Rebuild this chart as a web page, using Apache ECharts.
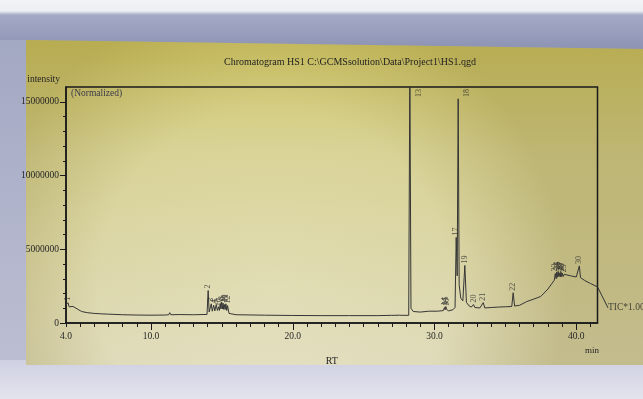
<!DOCTYPE html>
<html>
<head>
<meta charset="utf-8">
<script src="https://cdn.jsdelivr.net/npm/echarts@6/dist/echarts.min.js"></script>
<style>
html, body { margin: 0; padding: 0; }
#chart { width: 643px; height: 399px; }
</style>
</head>
<body>
<div id="chart"></div>
<script>
// TIC trace, retention time (min) and intensity (millions of counts)
const ticRT = [
  4.00, 4.08, 4.14, 4.22, 4.35, 4.50, 4.62, 4.85, 5.10, 5.50, 6.00, 6.50, 7.00, 8.00, 9.00, 10.00,
  11.00, 11.25, 11.32, 11.40, 11.90, 12.00, 12.10, 13.00, 13.95, 14.03, 14.10,
  14.25, 14.32, 14.42, 14.50, 14.60, 14.68, 14.76, 14.82, 14.88, 14.93, 14.98, 15.03,
  15.08, 15.13, 15.18, 15.23, 15.28, 15.34, 15.40, 15.50, 16.00, 18.00, 20.00, 22.00,
  24.00, 26.00, 26.95, 27.05, 27.15, 27.55, 27.62, 27.70, 28.18, 28.26, 28.34, 28.50,
  29.00, 29.60, 30.20, 30.62, 30.70, 30.75, 30.80, 30.85, 30.90, 31.00, 31.30, 31.45,
  31.53, 31.60, 31.67, 31.74, 31.85, 32.00, 32.14, 32.25, 32.45, 32.60, 32.75, 32.85,
  33.20, 33.44, 33.55, 34.00, 34.50, 35.00, 35.45, 35.55, 35.65, 36.00, 36.50, 37.00,
  37.50, 38.00, 38.30, 38.45, 38.52, 38.58, 38.62, 38.67, 38.72, 38.77, 38.82, 38.87,
  38.92, 38.97, 39.02, 39.08, 39.15, 39.25, 39.60, 40.00, 40.14, 40.22, 40.30, 40.60,
  41.00, 41.50
];
const ticIntensity = [
  1.22, 1.30, 1.37, 1.10, 1.05, 1.12, 1.08, 0.92, 0.78, 0.70, 0.65, 0.62, 0.60, 0.56, 0.54, 0.53,
  0.54, 0.56, 0.70, 0.56, 0.57, 0.66, 0.57, 0.56, 0.58, 2.20, 0.75,
  1.30, 0.80, 1.20, 0.82, 1.25, 0.85, 1.10, 0.85, 1.30, 0.95, 1.42, 0.95,
  1.35, 0.92, 1.25, 0.92, 1.30, 0.85, 1.18, 0.65, 0.56, 0.53, 0.51, 0.50,
  0.50, 0.50, 0.52, 0.62, 0.52, 0.53, 0.66, 0.52, 0.52, 17.5, 1.00, 0.78,
  0.74, 0.80, 0.80, 0.84, 1.05, 0.90, 1.12, 0.92, 1.00, 0.82, 0.90, 1.05,
  5.80, 3.20, 15.2, 2.60, 1.70, 1.50, 3.90, 1.40, 1.15, 1.08, 1.25, 1.05,
  1.02, 1.38, 1.02, 1.05, 1.08, 1.10, 1.12, 2.05, 1.15, 1.20, 1.45, 1.62,
  1.80, 2.30, 2.70, 2.90, 3.35, 3.00, 3.45, 3.10, 3.50, 3.15, 3.40, 3.12,
  3.48, 3.15, 3.38, 3.15, 3.30, 3.18, 3.20, 3.12, 3.10, 3.87, 3.08, 2.88,
  2.68, 2.45
];

// numbered peaks and their retention times
const peakNo = [
  '1', '2', '3', '4', '5', '6', '7', '8', '9', '10', '11', '12', '13', '14', '15',
  '16', '17', '18', '19', '20', '21', '22', '23', '24', '25', '26', '27', '28', '29', '30'
];
const peakRT = [
  4.14, 14.03, 14.25, 14.42, 14.60, 14.76, 14.88, 14.98, 15.08, 15.18, 15.28, 15.40, 28.26, 30.70, 30.80,
  30.90, 31.53, 31.67, 32.14, 32.75, 33.44, 35.55, 38.52, 38.62, 38.72, 38.82, 38.92, 39.02, 39.15, 40.22
];

const xLabelValues = [4, 10, 20, 30, 40];
const xMajorTicks = [10, 20, 30, 40];
const yLabelValues = [0, 5000000, 10000000, 15000000];

const MEGA = 1e6;
const X_MIN = 4, X_MAX = 41.5, Y_MAX = 16e6;
const SERIF = 'Liberation Serif';
const INK = '#262626';

const tic = ticRT.map((rt, i) => [rt, ticIntensity[i] * MEGA]);
const lookup = rt => tic.find(p => Math.abs(p[0] - rt) < 1e-6)[1];

const peakData = peakNo.map((name, i) => {
  const v = lookup(peakRT[i]);
  const item = { name: name, value: [peakRT[i], Math.min(v, Y_MAX)] };
  if (v + 1.2 * MEGA > Y_MAX) {
    // no room above the apex: number goes beside the line, hanging from the top border
    item.value = [peakRT[i], Y_MAX];
    item.label = { position: [9, 2], align: 'right', verticalAlign: 'middle' };
  }
  return item;
});

const paperEdge = [[26, 40], [643, 49], [643, 365], [26, 365]];

const chart = echarts.init(document.getElementById('chart'));

chart.setOption({
  backgroundColor: '#c9cadb',
  animation: false,
  graphic: [
    {
      type: 'rect', z: -10, silent: true,
      shape: { x: 0, y: 0, width: 643, height: 50 },
      style: { fill: new echarts.graphic.LinearGradient(0, 0, 0, 1, [
        { offset: 0, color: '#f3f3f7' }, { offset: 0.22, color: '#eceef4' },
        { offset: 0.3, color: '#a4a9c6' }, { offset: 1, color: '#8c92b2' }
      ]) }
    },
    {
      type: 'rect', z: -10, silent: true,
      shape: { x: 0, y: 40, width: 30, height: 325 },
      style: { fill: new echarts.graphic.LinearGradient(0, 0, 0, 1, [
        { offset: 0, color: '#a3a8c3' }, { offset: 1, color: '#bcbed2' }
      ]) }
    },
    {
      type: 'rect', z: -10, silent: true,
      shape: { x: 0, y: 360, width: 643, height: 39 },
      style: { fill: new echarts.graphic.LinearGradient(0, 0, 0, 1, [
        { offset: 0, color: '#cfd0e2' }, { offset: 1, color: '#e4e4ee' }
      ]) }
    },
    {
      type: 'polygon', z: -9, silent: true,
      shape: { points: paperEdge },
      style: { fill: new echarts.graphic.LinearGradient(0, 0, 0, 1, [
        { offset: 0, color: '#d4ca6c' }, { offset: 0.35, color: '#dcd79c' },
        { offset: 1, color: '#e4e0c2' }
      ]) }
    },
    {
      type: 'polygon', z: -8, silent: true,
      shape: { points: paperEdge },
      style: { fill: new echarts.graphic.RadialGradient(0.4, 0.75, 0.9, [
        { offset: 0, color: 'rgba(120,105,20,0)' },
        { offset: 0.6, color: 'rgba(120,105,20,0.04)' },
        { offset: 1, color: 'rgba(120,105,20,0.3)' }
      ]) }
    },
    {
      type: 'text', z: 5, silent: true, x: 71, y: 88,
      style: { text: '(Normalized)', font: '9.5px "Liberation Serif"', fill: '#3a3a4a' }
    },
    {
      type: 'text', z: 5, silent: true, x: 585, y: 346,
      style: { text: 'min', font: '9px "Liberation Serif"', fill: INK }
    }
  ],
  title: {
    text: 'Chromatogram HS1 C:\\GCMSsolution\\Data\\Project1\\HS1.qgd',
    left: 224,
    top: 57,
    padding: 0,
    textStyle: { fontFamily: SERIF, fontSize: 10, fontWeight: 'normal', color: '#1e1e1e' }
  },
  grid: {
    left: 66, right: 45.5, top: 87, bottom: 76,
    containLabel: false, outerBoundsMode: 'none',
    show: true, borderColor: '#1a1a1a', borderWidth: 1.5, backgroundColor: 'transparent'
  },
  xAxis: [
    {
      type: 'value', min: X_MIN, max: X_MAX, interval: 1,
      name: 'RT', nameLocation: 'middle', nameGap: 33,
      nameTextStyle: { fontFamily: SERIF, fontSize: 10, color: INK },
      axisLine: { show: true, lineStyle: { color: '#1a1a1a', width: 1.5 } },
      axisTick: { length: 4, lineStyle: { color: '#1a1a1a' } },
      axisLabel: {
        margin: 8, fontFamily: SERIF, fontSize: 9.5, color: INK, showMaxLabel: false,
        formatter: v => xLabelValues.includes(v) ? v.toFixed(1) : ''
      },
      splitLine: { show: false }
    },
    {
      type: 'value', min: X_MIN, max: X_MAX, position: 'bottom',
      axisLine: { show: false },
      axisTick: { show: true, customValues: xMajorTicks, length: 7, lineStyle: { color: '#1a1a1a' } },
      axisLabel: { show: false },
      splitLine: { show: false }
    }
  ],
  yAxis: [
    {
      type: 'value', min: 0, max: Y_MAX, interval: 1000000,
      name: 'intensity', nameLocation: 'end', nameGap: 3,
      nameTextStyle: { fontFamily: SERIF, fontSize: 9.5, color: INK, align: 'right', padding: [0, 6, 0, 0] },
      axisLine: { show: true, lineStyle: { color: '#1a1a1a', width: 1.5 } },
      axisTick: { length: 3, lineStyle: { color: '#1a1a1a' } },
      axisLabel: {
        margin: 7, fontFamily: SERIF, fontSize: 9.5, color: INK, showMaxLabel: false,
        formatter: v => yLabelValues.includes(v) ? String(v) : ''
      },
      splitLine: { show: false }
    },
    {
      type: 'value', min: 0, max: Y_MAX, position: 'left',
      axisLine: { show: false },
      axisTick: { show: true, customValues: yLabelValues, length: 6, lineStyle: { color: '#1a1a1a' } },
      axisLabel: { show: false },
      splitLine: { show: false }
    }
  ],
  series: [
    {
      name: 'TIC',
      type: 'line',
      data: tic,
      showSymbol: false,
      clip: true,
      lineStyle: { color: '#353535', width: 1 },
      z: 3
    },
    {
      name: 'peaks',
      type: 'scatter',
      data: peakData,
      symbolSize: 0,
      clip: false,
      label: {
        show: true,
        formatter: '{b}',
        position: 'top',
        distance: 2,
        rotate: 90,
        align: 'left',
        verticalAlign: 'middle',
        fontFamily: SERIF,
        fontSize: 8,
        color: '#303030'
      },
      z: 4
    },
    {
      name: 'tic-tag',
      type: 'scatter',
      data: [tic[tic.length - 1]],
      symbolSize: 1,
      itemStyle: { color: 'rgba(0,0,0,0)' },
      clip: false,
      label: {
        show: true,
        formatter: 'TIC*1.00',
        position: 'right',
        distance: 0,
        fontFamily: SERIF,
        fontSize: 9.5,
        color: INK
      },
      labelLayout: { dx: 10, dy: 21 },
      labelLine: { show: true, length2: 0, lineStyle: { color: '#333', width: 1 } },
      z: 4
    }
  ]
});
</script>
</body>
</html>
